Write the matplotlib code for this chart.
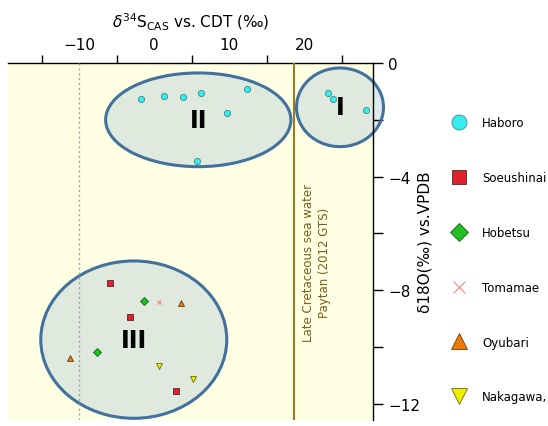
import numpy as np
import matplotlib
matplotlib.use("Agg")
import matplotlib.pyplot as plt
from matplotlib.patches import Ellipse

# d34S_CAS (x) and d18O (y) per locality
haboro_x = [-1.8, 1.3, 3.8, 6.2, 12.4, 9.7, 5.7, 23.2, 23.8, 28.3]
haboro_y = [-1.27, -1.16, -1.19, -1.05, -0.93, -1.76, -3.44, -1.07, -1.27, -1.65]
soeushinai_x = [-5.9, -3.2, 2.9]
soeushinai_y = [-7.76, -8.95, -11.55]
hobetsu_x = [-1.3, -7.6]
hobetsu_y = [-8.37, -10.16]
tomamae_x = [0.7]
tomamae_y = [-8.42]
oyubari_x = [3.6, -11.2]
oyubari_y = [-8.46, -10.38]
nakagawa_x = [0.7, 5.2]
nakagawa_y = [-10.67, -11.14]

# groups: label, center x, center y, width, height
groups = ["II", "I", "III"]
grp_cx = [5.9, 24.8, -2.7]
grp_cy = [-2.0, -1.56, -9.74]
grp_w = [24.7, 11.6, 24.8]
grp_h = [3.3, 2.77, 5.54]

seawater_s34 = 18.7
xticks_lab = [-10, 0, 10, 20]
xticks_minor = [-15, -5, 5, 15, 25]
yticks_lab = [0, -4, -8, -12]
yticks_minor = [-2, -6, -10]

fig = plt.figure(figsize=(5.48, 4.27), dpi=100)
ax = fig.add_axes([8 / 548, 1 - 421 / 427, 365 / 548, 357 / 427])
ax.set_facecolor("#FFFFE4")
ax.set_xlim(-19.47, 29.2)
ax.set_ylim(-12.57, 0)

for cx, cy, w, h, lab in zip(grp_cx, grp_cy, grp_w, grp_h, groups):
    e = Ellipse((cx, cy), w, h, fc="#C2D4D8", ec="none", alpha=0.5, zorder=1, clip_on=False)
    ax.add_patch(e)
    e2 = Ellipse((cx, cy), w, h, fc="none", ec="#41719C", lw=2.2, zorder=2, clip_on=False)
    ax.add_patch(e2)
    ax.text(cx, cy, lab, fontsize=17, fontweight="bold", ha="center", va="center",
            family="DejaVu Sans", zorder=4)

ax.axvline(-10, color="#A0A0A0", ls=(0, (1.5, 2)), lw=1.0, zorder=3)
ax.axvline(seawater_s34, color="#9C7A1E", lw=1.5, zorder=3)
ax.text(21.7, -7.0, "Late Cretaceous sea water\nPaytan (2012 GTS)", rotation=90,
        ha="center", va="center", fontsize=8.5, color="#7A5E1A", linespacing=1.3, zorder=4)

kw = dict(ls="none", zorder=5, mew=0.6)
h1, = ax.plot(haboro_x, haboro_y, "o", ms=4.5, mfc="#35EDEF", mec="#3A8C8C", label="Haboro", **kw)
h2, = ax.plot(soeushinai_x, soeushinai_y, "s", ms=4.2, mfc="#E0202A", mec="#4A2A2A", label="Soeushinai", **kw)
h3, = ax.plot(hobetsu_x, hobetsu_y, "D", ms=3.8, mfc="#20C020", mec="#1A5A1A", label="Hobetsu", **kw)
h4, = ax.plot(tomamae_x, tomamae_y, "x", ms=3.5, mec="#FF6060", label="Tomamae", **kw)
h5, = ax.plot(oyubari_x, oyubari_y, "^", ms=4.8, mfc="#EE7A00", mec="#6A4010", label="Oyubari", **kw)
h6, = ax.plot(nakagawa_x, nakagawa_y, "v", ms=4.8, mfc="#EEEE00", mec="#6A6A10", label="Nakagawa,", **kw)

# axes: top x axis, right y axis
for s in ["left", "bottom"]:
    ax.spines[s].set_visible(False)
ax.spines["top"].set_linewidth(1.0)
ax.spines["right"].set_linewidth(1.0)
ax.xaxis.tick_top()
ax.xaxis.set_label_position("top")
ax.set_xticks(xticks_lab)
ax.set_xticklabels([f"\u2212{abs(v)}" if v < 0 else str(v) for v in xticks_lab])
ax.set_xticks(xticks_minor, minor=True)
ax.tick_params(axis="x", which="major", length=0, pad=8, labelsize=11)
ax.tick_params(axis="x", which="minor", length=6, width=1.0, direction="out")
ax.set_xlabel(r"$\delta^{34}$S$_{\mathrm{CAS}}$ vs. CDT (‰)", fontsize=11, labelpad=7)

ax.yaxis.tick_right()
ax.yaxis.set_label_position("right")
ax.set_yticks(yticks_lab)
ax.set_yticklabels([f"\u2212{abs(v)}" if v < 0 else str(v) for v in yticks_lab])
ax.set_yticks(yticks_minor, minor=True)
ax.tick_params(axis="y", which="both", length=7, width=1.0, direction="out", labelsize=11, pad=4)
ax.set_ylabel("δ18O(‰) vs.VPDB", fontsize=11, labelpad=-2)

handles = [h1, h2, h3, h4, h5, h6]
leg = fig.legend(handles=handles, loc="upper left", bbox_to_anchor=(446 / 548, 1 - 111 / 427),
                 frameon=False, fontsize=8.5, markerscale=2.4, labelspacing=3.55,
                 handlelength=1.2, handletextpad=1.35, borderpad=0)

fig.savefig("out.png", dpi=100)
